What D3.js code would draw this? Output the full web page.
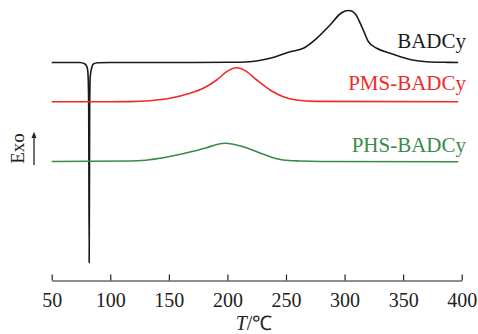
<!DOCTYPE html>
<html>
<head>
<meta charset="utf-8">
<script src="https://cdn.jsdelivr.net/npm/d3@7"></script>
<style>
  body { margin: 0; background: #fff; }
  text { font-family: "Liberation Serif", "Times New Roman", serif; }
</style>
</head>
<body>
<svg id="chart" width="478" height="334"></svg>
<script>
  // DSC curves, heat flow in arbitrary units (curves offset vertically)
  var badcyT = [50, 70, 74, 78.5, 80.4, 81.1, 81.6, 82, 82.4, 82.9, 84.1, 85.5, 89.5, 100, 150, 202, 219, 236.4, 253.5, 264.8, 276.2, 287.6, 296.1, 300, 303.2, 306.5, 309.5, 314.7, 320.4, 327.5, 338.9, 347.5, 358, 370, 385, 397];
  var badcyY = [21.75, 21.75, 21.75, 21.6, 21.2, 20.35, 17, 1.75, 17, 20.35, 21.2, 21.6, 21.72, 21.75, 21.75, 21.77, 21.83, 22.17, 22.83, 23.17, 24.17, 25.5, 26.6, 26.88, 26.95, 26.88, 26.55, 25.33, 23.83, 23.17, 22.67, 22.33, 22.0, 21.83, 21.77, 21.75];

  var pmsT = [50, 100, 117, 134, 151, 168, 179.4, 190.8, 199.4, 204, 208, 212, 216.5, 225, 236.4, 247.7, 259, 275, 397];
  var pmsY = [17.83, 17.83, 17.84, 17.93, 18.17, 18.67, 19.17, 20.0, 20.83, 21.12, 21.23, 21.12, 20.83, 20.0, 19.0, 18.33, 18.0, 17.86, 17.83];

  var phsT = [50, 117, 145.3, 168, 182.3, 191, 198, 205, 213.6, 230.7, 247.7, 262, 280, 397];
  var phsY = [11.85, 11.9, 12.23, 12.8, 13.23, 13.55, 13.67, 13.58, 13.33, 12.57, 12.0, 11.9, 11.85, 11.83];

  var xTicks = [50, 100, 150, 200, 250, 300, 350, 400];

  var series = [
    {name: 'BADCy', T: badcyT, Y: badcyY, color: '#1a1a1a', labelY: 48},
    {name: 'PMS-BADCy', T: pmsT, Y: pmsY, color: '#ee2a2a', labelY: 90},
    {name: 'PHS-BADCy', T: phsT, Y: phsY, color: '#3a8a4a', labelY: 152}
  ];

  var svg = d3.select('#chart');
  var x = d3.scaleLinear().domain([50, 400]).range([51.7, 461.7]);
  var y = d3.scaleLinear().domain([0, 28]).range([280, 0]);

  var line = d3.line()
    .x(function (d) { return x(d[0]); })
    .y(function (d) { return y(d[1]); })
    .curve(d3.curveMonotoneX);

  series.forEach(function (s) {
    var pts = s.T.map(function (t, i) { return [t, s.Y[i]]; });
    svg.append('path')
      .attr('d', line(pts))
      .attr('fill', 'none')
      .attr('stroke', s.color)
      .attr('stroke-width', 1.6);
    svg.append('text')
      .attr('x', 466)
      .attr('y', s.labelY)
      .attr('text-anchor', 'end')
      .attr('font-size', 21)
      .attr('fill', s.color)
      .text(s.name);
  });

  // x axis, ticks pointing inward
  var axis = svg.append('g')
    .attr('transform', 'translate(0,280.5)')
    .call(d3.axisBottom(x).tickValues(xTicks).tickSize(-6).tickSizeOuter(0).tickPadding(12));
  axis.select('.domain').attr('stroke', '#222').attr('stroke-width', 1.2);
  axis.selectAll('.tick line').attr('stroke', '#222').attr('stroke-width', 1.2);
  axis.selectAll('.tick text')
    .attr('font-family', '"Liberation Serif", serif')
    .attr('font-size', 20)
    .attr('fill', '#222');

  var xt = svg.append('text')
    .attr('x', 254)
    .attr('y', 330)
    .attr('text-anchor', 'middle')
    .attr('font-size', 20)
    .attr('fill', '#222');
  xt.append('tspan').attr('font-style', 'italic').text('T');
  xt.append('tspan').text('/℃');

  // y label with arrow
  svg.append('text')
    .attr('transform', 'translate(23.5,148.5) rotate(-90)')
    .attr('text-anchor', 'middle')
    .attr('font-size', 19)
    .attr('fill', '#222')
    .text('Exo');

  svg.append('defs').append('marker')
    .attr('id', 'arr')
    .attr('viewBox', '0 0 10 10')
    .attr('refX', 5).attr('refY', 5)
    .attr('markerWidth', 5).attr('markerHeight', 7)
    .attr('orient', 'auto')
    .append('path')
    .attr('d', 'M0,1 L10,5 L0,9 Z')
    .attr('fill', '#222');

  svg.append('line')
    .attr('x1', 34).attr('y1', 165)
    .attr('x2', 34).attr('y2', 135)
    .attr('stroke', '#222')
    .attr('stroke-width', 1.3)
    .attr('marker-end', 'url(#arr)');
</script>
</body>
</html>
